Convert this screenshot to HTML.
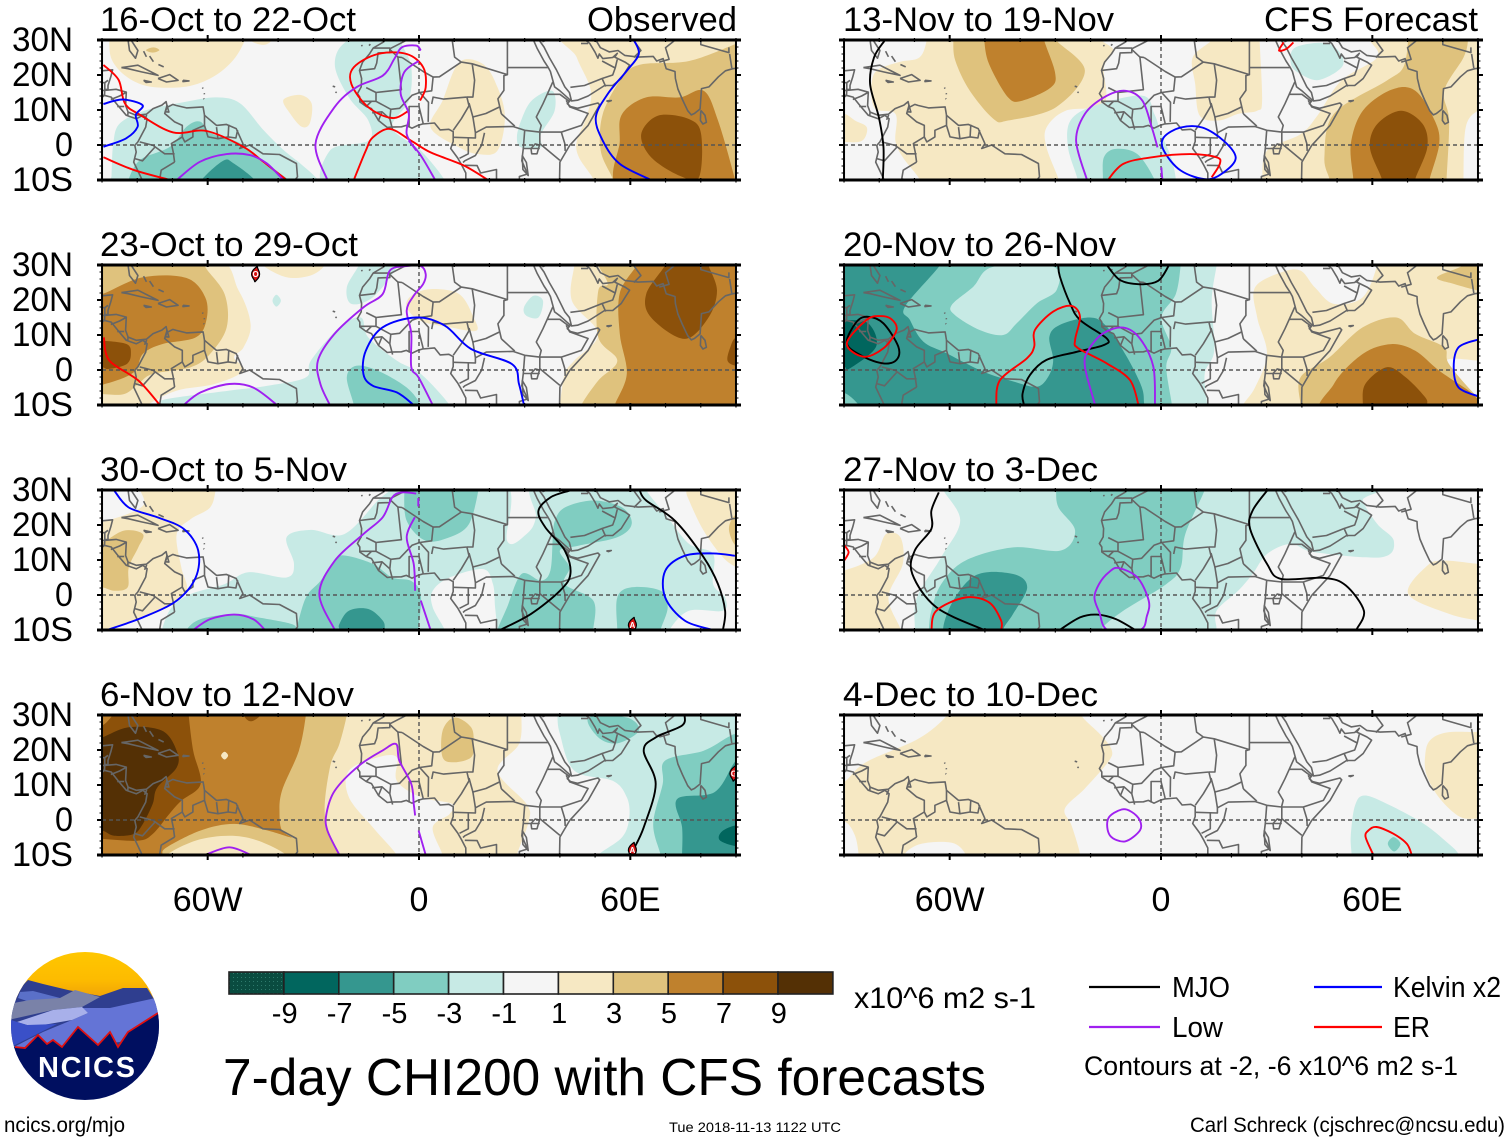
<!DOCTYPE html>
<html lang="en">
<head>
<meta charset="utf-8">
<title>7-day CHI200 with CFS forecasts</title>
<style>
html,body{margin:0;padding:0;background:#fff;}
svg{display:block;}
text{font-family:"Liberation Sans",sans-serif;fill:#000;}
</style>
</head>
<body>
<svg id="chart" width="1510" height="1142" viewBox="0 0 1510 1142">
<defs>
<pattern id="stipple" width="4" height="4" patternUnits="userSpaceOnUse"><rect width="4" height="4" fill="#0a4c40"/><rect x="1" y="1" width="1" height="1" fill="#2d7a6c"/></pattern>
<clipPath id="logo-clip"><circle cx="85" cy="1026" r="74"/></clipPath>
<linearGradient id="logo-sky" x1="0" y1="0" x2="0" y2="1"><stop offset="0" stop-color="#ffc800"/><stop offset="0.6" stop-color="#fdbb00"/><stop offset="1" stop-color="#ee9f08"/></linearGradient>
</defs>
<g id="panels"></g>
<g font-size="34">
<text x="100" y="31" textLength="256" lengthAdjust="spacingAndGlyphs">16-Oct to 22-Oct</text>
<text x="587" y="31" textLength="150" lengthAdjust="spacingAndGlyphs">Observed</text>
<text x="100" y="256" textLength="258" lengthAdjust="spacingAndGlyphs">23-Oct to 29-Oct</text>
<text x="100" y="481" textLength="247" lengthAdjust="spacingAndGlyphs">30-Oct to 5-Nov</text>
<text x="100" y="706" textLength="254" lengthAdjust="spacingAndGlyphs">6-Nov to 12-Nov</text>
<text x="843" y="31" textLength="271" lengthAdjust="spacingAndGlyphs">13-Nov to 19-Nov</text>
<text x="1264" y="31" textLength="214" lengthAdjust="spacingAndGlyphs">CFS Forecast</text>
<text x="843" y="256" textLength="273" lengthAdjust="spacingAndGlyphs">20-Nov to 26-Nov</text>
<text x="843" y="481" textLength="255" lengthAdjust="spacingAndGlyphs">27-Nov to 3-Dec</text>
<text x="843" y="706" textLength="255" lengthAdjust="spacingAndGlyphs">4-Dec to 10-Dec</text>
</g>
<g id="colorbar"></g>
<text x="854" y="1008" font-size="30" textLength="182" lengthAdjust="spacingAndGlyphs">x10^6 m2 s-1</text>
<text x="223" y="1095" font-size="52" textLength="763" lengthAdjust="spacingAndGlyphs">7-day CHI200 with CFS forecasts</text>
<g>
<line x1="1089" y1="987" x2="1160" y2="987" stroke="#000" stroke-width="2.2"/>
<text x="1172" y="997" font-size="29" textLength="58" lengthAdjust="spacingAndGlyphs">MJO</text>
<line x1="1089" y1="1027" x2="1160" y2="1027" stroke="#a020f0" stroke-width="2.2"/>
<text x="1172" y="1037" font-size="29" textLength="51" lengthAdjust="spacingAndGlyphs">Low</text>
<line x1="1314" y1="987" x2="1382" y2="987" stroke="#0000ff" stroke-width="2.2"/>
<text x="1393" y="997" font-size="29" textLength="108" lengthAdjust="spacingAndGlyphs">Kelvin x2</text>
<line x1="1314" y1="1027" x2="1382" y2="1027" stroke="#ff0000" stroke-width="2.2"/>
<text x="1393" y="1037" font-size="29" textLength="37" lengthAdjust="spacingAndGlyphs">ER</text>
<text x="1084" y="1075" font-size="27" textLength="374" lengthAdjust="spacingAndGlyphs">Contours at -2, -6 x10^6 m2 s-1</text>
</g>
<text x="4" y="1132" font-size="21" textLength="121" lengthAdjust="spacingAndGlyphs">ncics.org/mjo</text>
<text x="669" y="1132" font-size="14" textLength="172" lengthAdjust="spacingAndGlyphs">Tue 2018-11-13 1122 UTC</text>
<text x="1190" y="1132" font-size="21" textLength="315" lengthAdjust="spacingAndGlyphs">Carl Schreck (cjschrec@ncsu.edu)</text>
<g clip-path="url(#logo-clip)">
<rect x="10" y="950" width="150" height="50" fill="url(#logo-sky)"/>
<polygon points="8,1000 28,980 43,984 68,990 100,996 123,988 147,988 162,1012 162,1060 8,1060" fill="#2f3e8f"/>
<polygon points="18,998 20,992 33,991 60,998 30,1002" fill="#5a70c8"/>
<polygon points="8,1004 30,1000 60,998 75,990 100,997 82,1007 53,1010 8,1020" fill="#7a82a8"/>
<polygon points="82,1008 110,1008 160,997 162,1013 120,1042 57,1048 12,1048 43,1032 72,1020 88,1013" fill="#6474d6"/>
<polygon points="17,1022 53,1010 82,1007 88,1013 72,1020 43,1025 27,1025" fill="#a8b0ea"/>
<polygon points="8,1019 27,1025 57,1024 15,1045 8,1048" fill="#3a50c8"/>
<polygon points="8,1047 15,1047 25,1048 38,1035 47,1044 53,1040 62,1047 78,1027 98,1045 110,1032 118,1047 128,1032 158,1013 164,1010 164,1105 8,1105" fill="#000f60"/>
<polyline points="15,1047 25,1048 38,1035 47,1044 53,1040 62,1047 78,1027 98,1045 110,1032 118,1047 128,1032 158,1013" fill="none" stroke="#e01010" stroke-width="1.8"/>
<text x="38" y="1077" font-size="29" font-weight="700" style="fill:#fff" textLength="97" lengthAdjust="spacing">NCICS</text>
</g>
</svg>
<script>
// ---- tick labels and scale values ----
const lonTicks = [-60, 0, 60];
const lonTickLabels = ['60W', '0', '60E'];
const latTicks = [30, 20, 10, 0, -10];
const latTickLabels = ['30N', '20N', '10N', '0', '10S'];
const colorbarTicks = ['-9', '-7', '-5', '-3', '-1', '1', '3', '5', '7', '9'];
const colorbarBins = [-10, -8, -6, -4, -2, 0, 2, 4, 6, 8, 10];

// ---- filled CHI200 regions: [bin centre (x10^6 m2 s-1), [[lon,lat],...]] ----
const fills16Oct = [
 [2,[[-88,33],[-88,30],[-87.2,24.3],[-83,19.5],[-76.4,16.7],[-66,16.7],[-58.4,19.5],[-52.7,24.3],[-49.4,30],[-49,33]]],
 [2,[[-48,33],[-48,30],[-44.2,28.6],[-41.8,30],[-41.8,33]]],
 [4,[[-77.5,27.1],[-75.4,27.9],[-73.7,27.1],[-75.6,26.4]]],
 [-2,[[-87.5,-13],[-87.3,-9],[-86.8,0.5],[-84.9,6.2],[-77.3,10],[-66,12.4],[-57.4,13.6],[-50.8,11.9],[-44.2,4.3],[-38.5,-1.4],[-33.8,-5.2],[-29.4,-9.2],[-27,-13]]],
 [-2,[[-6,33],[-19.9,30],[-23.9,23.1],[-19.9,13.6],[-14.4,7],[-14.4,1.2],[-25.3,-1.6],[-25.3,-13],[7.3,-13],[7.3,-10],[0.5,-1.6],[-7.6,5],[-2.9,12.7],[-2.2,22.2],[-4.9,28.9]]],
 [-4,[[-82.5,-13],[-82.5,-10],[-79.2,-4.3],[-70.7,-0.5],[-66,5.2],[-62.2,6.7],[-58.9,3.3],[-50.8,0.5],[-44.2,-5.2],[-37.6,-9.5],[-36,-13]]],
 [-6,[[-61.7,-13],[-61.7,-10],[-55.6,-4.5],[-52.7,-5.2],[-46.6,-10],[-46,-13]]],
 [2,[[6.7,12.7],[11.4,23.6],[18.2,23.1],[22.3,16.5],[24.4,7.9],[22.3,-1.6],[16.9,-2.6],[11.4,-0.7],[3.3,5]]],
 [2,[[-38.5,12.9],[-33.8,14.3],[-30.5,11.9],[-31,6.2],[-33.3,5.2],[-36.6,9]]],
 [-2,[[29,7],[32,12.7],[37.8,15.5],[38.5,9.8],[34.6,3.1],[34.6,-0.7],[29,-0.7],[27.8,2.2]]],
 [2,[[42.7,33],[44.8,25],[48.8,15.5],[47.5,7.9],[44.8,1.2],[45.4,-3.5],[49.5,-9.7],[50,-13],[94,-13],[94,33]]],
 [4,[[57.7,19.3],[63,23],[76.7,24],[90.3,29],[94,30],[94,-13],[55,-13],[55,-9.7],[51.6,-1.6],[52.2,8.9]]],
 [6,[[57.7,8.9],[64.5,13.6],[74,13.6],[80.8,15.5],[84.9,7],[89.7,-9.7],[90,-13],[57.7,-13],[57,1.2]]],
 [8,[[63.1,3.1],[67.9,8.4],[76.7,7.4],[80.1,3.1],[79.5,-9.2],[74,-8.8],[65.9,-3.5]]]
];
const fills23Oct = [
 [2,[[-94,33],[-59.3,33],[-51.2,22.7],[-47.8,13.1],[-49.8,6.5],[-52.5,3.6],[-49.8,-0.2],[-58,-4],[-68.8,-5.9],[-77,-10],[-78,-13],[-94,-13]]],
 [4,[[-94,33],[-60.7,33],[-60.7,29.5],[-55.2,21.7],[-54.6,12.2],[-59.3,4.6],[-64.8,0.8],[-75.6,-1.1],[-79.7,-4],[-83.8,-6.9],[-90,-6.9],[-94,-7]]],
 [6,[[-94,21.7],[-90,21.7],[-78.4,26.5],[-66.1,26.3],[-60.7,20.8],[-60.4,14.1],[-63.4,9.3],[-72.9,7.4],[-78.4,4.6],[-81,-0.7],[-89.2,-4],[-94,-4]]],
 [8,[[-94,8.4],[-90,8.4],[-83,7.4],[-81.8,4.6],[-83,1.7],[-88,0.3],[-90,0.8],[-94,0.8]]],
 [-2,[[-41.6,19.8],[-40.5,21.5],[-39.2,19.8],[-40.5,18.1]]],
 [2,[[-44.4,33],[-44.4,30],[-37.6,26.5],[-30.8,27],[-26.7,30],[-26.7,33]]],
 [-2,[[-17.1,33],[-17.1,30],[-20.5,23.6],[-19.2,18.9],[-13.1,20.8],[-6.3,29.3],[-6,33]]],
 [2,[[-2.2,21.2],[3.3,23.1],[11.4,21.7],[15.5,15],[16.2,11.2],[8.7,12.2],[0.5,14],[-3.5,17.9]]],
 [-2,[[29.8,17.9],[32.5,21.2],[35.2,19.8],[33.9,15],[30.5,15.5]]],
 [-2,[[-16.5,15],[-22.6,12.2],[-30.7,2.7],[-32.1,-2.1],[-43,-4.5],[-53.9,-5.9],[-71.6,-8.3],[-73,-10],[-73,-13],[8.7,-13],[8.7,-10],[0.5,-1.1],[-6.3,2.7],[-14.4,9.3]]],
 [-4,[[-20.5,-2.1],[-17.8,1.2],[-11.7,-0.2],[-3.5,-5],[0.5,-10],[1,-13],[-18.5,-13],[-18.5,-10]]],
 [2,[[44.1,33],[44.1,30],[43.4,19.8],[50.9,10.3],[44.1,2.7],[41.4,-1.1],[40,-10],[40,-13],[94,-13],[94,33]]],
 [4,[[50.9,33],[50.9,30],[53.6,24.6],[50.9,22.7],[50.9,9.3],[56.3,2.7],[50.9,-3],[46.1,-10],[46,-13],[94,-13],[94,33]]],
 [6,[[61.8,33],[61.8,30],[57,22],[57,10.3],[59,-1.1],[55.6,-10],[55.6,-13],[94,-13],[94,33]]],
 [8,[[69.9,33],[69.9,30],[64.5,21.7],[65.9,15],[75.4,8.9],[82.2,15],[84.6,22.7],[82.2,30],[82,33]]],
 [8,[[94,9.3],[90,9.3],[88.4,6.5],[87.6,2.7],[90,1.2],[94,1.2]]]
];
const fills30Oct = [
 [2,[[-78.4,33],[-78.4,25.5],[-90,20.8],[-94,20.5],[-94,-9],[-81,-7.3],[-71.6,-3.5],[-66,1.2],[-67.5,7.9],[-68.8,17.4],[-64.8,21.7],[-59.3,25],[-57.7,30],[-57,33]]],
 [4,[[-94,15],[-90,15],[-83.8,18.4],[-78.4,17.4],[-79.7,13.6],[-82.4,7.9],[-82.7,2.2],[-86.5,1.2],[-90,2.2],[-94,2.2]]],
 [-2,[[-72.9,-13],[-72.9,-9.7],[-70.2,-3.5],[-64.8,0.3],[-55.2,3.1],[-48.4,6.5],[-37.6,5],[-35.5,8.9],[-37.6,16.5],[-30.7,18.6],[-21.2,17.4],[-11.7,27],[-8.3,30],[-8,33],[23.7,33],[25,15.5],[30.5,17.4],[33.2,22.2],[33.5,33],[64.5,33],[64.5,30],[69.9,23.1],[76.7,14.6],[83.5,11.7],[83.5,3.1],[86.9,-0.7],[86.3,-4.5],[76.7,-4.5],[71.3,-9.7],[71,-13]]],
 [0,[[3.9,1.2],[8.7,5],[18.2,7.4],[21,3.1],[21.6,-3.5],[22.3,-10],[22.3,-13],[7.3,-13],[7.3,-10],[3.9,-3.5]]],
 [-4,[[-34.8,-13],[-34.8,-10],[-32.1,-0.7],[-28,4],[-23.9,9.9],[-21.2,11.3],[-13.1,8.9],[-7.6,5],[-2.2,4],[0.5,0],[-0.1,-10],[0,-13]]],
 [-4,[[-66,-13],[-66,-10],[-62,-6.9],[-52.5,-5.4],[-45.7,-6.4],[-36.2,-8.3],[-34.8,-10],[-34,-13]]],
 [-4,[[-4.2,33],[-4.2,30],[-3.5,21.2],[1.9,15.5],[8.7,16.5],[14.2,20.3],[16.9,30],[17,33]]],
 [-4,[[38.6,21.2],[41.4,25],[49.5,27],[57.7,25],[60.4,20.3],[56.3,16.5],[45.4,14.1],[40,12.7],[42.7,7.9],[41.4,3.1],[49.5,-1.6],[49.5,-10],[49.5,-13],[22.3,-13],[22.3,-10],[25,-3.5],[29.1,6],[34.6,4.1],[37.3,7],[38,16.5]]],
 [-4,[[56.3,-0.7],[60.4,2.2],[68.6,1.2],[70.6,-3.5],[68.6,-10],[68.6,-13],[56.3,-13],[56.3,-10]]],
 [-6,[[-22.6,-8.3],[-19.9,-4.5],[-14.4,-4],[-10.3,-7.3],[-9.7,-10],[-9.7,-13],[-22.6,-13],[-22.6,-10]]],
 [2,[[76.7,27],[80.8,18.4],[86.3,10.8],[90.3,7.9],[94,7],[94,33],[78,33],[76,30]]],
 [4,[[94,23],[90,23],[88,19],[90,14],[94,14]]]
];
const fills6Nov = [
 [2,[[-94,33],[29.1,33],[29.1,30],[28.4,21.7],[22.3,14.1],[30.5,4.6],[31.2,-0.2],[27.8,-10],[27.8,-13],[-94,-13]]],
 [0,[[-19.9,14.1],[-11.7,17.9],[-6.3,17.9],[-6.3,11.2],[0.5,6.5],[9.4,4.6],[8.7,1.7],[3.9,-2.1],[6.7,-10],[6.7,-13],[-6.3,-13],[-6.3,-10],[-13.1,-2.1],[-19.9,6.5]]],
 [4,[[-94,33],[-20.5,33],[-20.5,30],[-22.6,21.7],[-25.3,15],[-26.7,0.8],[-22.6,-10],[-22,-13],[-94,-13]]],
 [6,[[-94,33],[-32.1,33],[-32.1,30],[-34.1,19.8],[-38.9,8.4],[-39.6,1.7],[-38.9,-3],[-36.2,-5],[-43,-3],[-52.5,-1.1],[-62,-3],[-71.6,-7.8],[-72.9,-10],[-73,-13],[-94,-13]]],
 [2,[[-71.6,-13],[-71.6,-10],[-63.4,-5.9],[-53.9,-4.5],[-45.7,-5.9],[-37.6,-10],[-37,-13]]],
 [8,[[-94,33],[-65.4,33],[-65.4,30],[-64.1,19.8],[-62,10.3],[-67.5,5.5],[-70.9,1.7],[-75.6,-4],[-79.7,-5.9],[-90,-5.4],[-94,-5]]],
 [6,[[-94,33],[-86,33],[-87,30],[-90,27],[-94,27]]],
 [10,[[-90,23.6],[-82.4,26.5],[-72.9,25.5],[-68.8,19.8],[-68.8,15],[-74.3,9.3],[-75.6,4.6],[-78.4,-1.1],[-81,-4],[-86.5,-4.5],[-90,-3],[-94,-3],[-94,23]]],
 [8,[[-49.8,33],[-49.8,30],[-47.8,28.2],[-45,30],[-45,33]]],
 [2,[[-56.2,18.4],[-55.2,19.5],[-54.2,18.4],[-55.2,17.3]]],
 [4,[[6.7,25.5],[10.1,29.3],[14.8,26.5],[15.5,21.7],[14.8,17.9],[10.1,16.5],[6.7,17.9]]],
 [-2,[[39.3,33],[39.3,30],[40,24.6],[44.1,14.1],[55,11.2],[59,6.5],[59.7,0.8],[57.7,-4.9],[50.9,-10],[50.9,-13],[94,-13],[94,33]]],
 [-4,[[48.2,29.3],[50.9,23.6],[56.3,21.9],[62.4,25.5],[59,29.3]]],
 [-4,[[68.6,-13],[68.6,-10],[66.5,-1.1],[69.2,10.3],[69.9,17],[80.8,19.8],[87.6,23.6],[90,24.6],[94,24.6],[94,-13]]],
 [-6,[[74.7,-13],[74.7,-10],[74.7,-2.1],[73.3,6],[84,8],[90,17],[94,18],[94,-13]]],
 [-8,[[94,-1.5],[90,-1.5],[86,-3.3],[85.4,-5.8],[90,-7.5],[94,-7.5]]]
];
const fills13Nov = [
 [2,[[-66.5,33],[-66.5,30],[-68.6,25],[-74.7,23.6],[-81.5,20.3],[-81.5,10.8],[-75.4,8.9],[-75.4,1.2],[-73.3,-3.5],[-68.6,-9.7],[-68,-13],[-28.5,-13],[-29.1,-9.7],[-32.5,-0.7],[-32.5,5],[-27.1,9.8],[-16.2,11.7],[-16.2,22.2],[-13.5,27],[-16.9,30],[-17,33]]],
 [2,[[-94,8],[-90,8.9],[-86.9,7],[-83.5,5],[-84.9,1.2],[-90,0.8],[-94,0.8]]],
 [2,[[9,25],[14.4,30],[14.4,33],[28,33],[28,30],[28.7,12.7],[27.3,9.8],[21.9,8.9],[16.5,7],[11,8.4],[9.7,17.4]]],
 [2,[[59.3,33],[59.3,30],[61.4,25],[51.2,18.4],[44.4,8.4],[39.6,3.1],[30.1,-1.6],[28.7,-9.7],[28,-13],[86,-13],[85.9,-9.7],[86.5,5],[90,9.8],[94,9.8],[94,33]]],
 [4,[[70.2,33],[70.2,30],[68.8,22.2],[64.1,18.4],[49.1,8.9],[46.4,-3.5],[47.8,-9.7],[48,-13],[81,-13],[81.1,-9.7],[81.8,7],[80.4,15.5],[85.9,25],[87.2,30],[87.2,33]]],
 [6,[[54.6,-13],[54.6,-9.7],[53.9,0.3],[57.3,9.8],[65.4,15.8],[72.2,15.5],[77.7,7],[79,0.3],[76.3,-9.7],[76,-13]]],
 [8,[[59.3,-0.7],[61.4,6],[68.2,9.8],[74.3,6],[75.6,-0.7],[72.2,-9.7],[72,-13],[62.7,-13],[62.7,-9.7]]],
 [4,[[-59,33],[-59,30],[-58.4,24.1],[-54.3,15.5],[-47.5,7.4],[-43.4,7],[-29.8,10.8],[-21.6,21.2],[-29.8,30],[-30,33]]],
 [6,[[-50.2,33],[-50.2,30],[-48.8,23.1],[-43.4,13.6],[-39.3,12.7],[-31.2,16.5],[-30.1,20.8],[-33.2,30],[-33,33]]],
 [-2,[[36.9,23.1],[38.2,27.9],[47.8,28.9],[51.8,23.1],[45,18.6],[39.6,20.3]]],
 [-2,[[-23.7,-13],[-23.7,-9.7],[-26.4,-0.7],[-25.7,7],[-18.9,11.2],[-5.3,14.1],[-1.9,8.9],[0.1,3.1],[2.9,-3.5],[4.2,-9.7],[4,-13]]],
 [-4,[[-16.5,-13],[-16.5,-9.7],[-16.2,-3.5],[-12.8,-1.1],[-6.7,-2.6],[-1.9,-9.7],[-1.5,-13]]]
];
const fills20Nov = [
 [-2,[[-94,33],[15.8,33],[15.8,30],[14.4,19.8],[15.1,5.5],[12.4,-1.1],[13.1,-10],[13,-13],[-94,-13]]],
 [-4,[[-94,33],[5.6,33],[5.6,30],[4.2,21.7],[0.1,15],[2.9,6.5],[1.5,0.8],[3.1,-10],[3,-13],[-94,-13]]],
 [-2,[[-59.4,18.6],[-53.3,23.8],[-47.6,29.5],[-30.6,29.5],[-29.6,22.9],[-35.3,19],[-41,13.3],[-44.8,10],[-51.4,11.4],[-58.5,15.7]]],
 [-6,[[-62.7,33],[-62.7,30],[-72.7,18.1],[-71.3,14.3],[-67.5,8.1],[-60.9,4.8],[-50.4,-0.5],[-41.9,-3.3],[-35.3,-4.8],[-32,-1.9],[-30.6,2.9],[-31.7,9.5],[-28.7,12.9],[-20.2,15],[-15.4,12.4],[-9.7,3.8],[-5.5,-4.8],[-4.8,-9.5],[-4.5,-13],[-94,-13],[-94,33]]],
 [-4,[[-94,-6],[-90,-6.5],[-86.7,-9],[-84,-13],[-94,-13]]],
 [-8,[[-94,14.5],[-89.7,14.3],[-83.1,13.3],[-80.9,6.7],[-88.3,0.5],[-90,1],[-94,2]]],
 [2,[[26.7,23.6],[34.1,27.9],[39.6,28.4],[43.7,23.6],[49.1,18.9],[57.3,20.8],[61.4,30],[61,33],[94,33],[94,-13],[23.3,-13],[23.3,-10],[26.7,-5],[30.1,4.6],[27.3,15]]],
 [0,[[90,2.7],[81.8,3.1],[79.7,-0.2],[87.2,-6.9],[90,-7.8],[94,-8],[94,2.7]]],
 [4,[[39.6,-13],[39.6,-10],[39.6,-2.1],[47.8,3.6],[57.3,12.2],[66.8,15],[72.2,10.3],[80.4,6.5],[81.8,1.7],[90,-7.8],[94,-9],[94,-13]]],
 [4,[[78.4,26.5],[85.9,30],[86,33],[94,33],[94,22],[90,22.7],[83.1,24.6]]],
 [6,[[47.8,-13],[49.1,-4],[57.3,4.6],[65.4,7.4],[72.2,5.5],[79,-0.2],[88.6,-6.9],[90,-10],[90,-13]]],
 [8,[[57.5,-13],[57.3,-10],[58,-4],[64.1,0.8],[69.5,-2.1],[75,-7.8],[75.6,-10],[76,-13]]]
];
const fills27Nov = [
 [-2,[[-61.8,33],[-61.8,30],[-57,21.2],[-62.4,10.8],[-69.3,-0.7],[-69.9,-9.7],[-70,-13],[15.8,-13],[15.8,-9.7],[15.8,-4.5],[21.9,1.2],[26,6],[30.1,11.7],[36.9,14.6],[43.7,12.2],[62.7,10.8],[66.1,15.5],[61.4,20.3],[57.3,27],[57.3,33]]],
 [-4,[[-29.8,33],[-29.8,30],[-29.1,25],[-24.4,18.4],[-28.4,12.7],[-42,13.6],[-55.6,9.8],[-62.4,3.1],[-65.2,-4.5],[-65.9,-9.7],[-66,-13],[-17,-13],[-16.9,-9.7],[-10.7,-4.5],[1.5,3.1],[5.6,7.9],[6.9,17.4],[12.4,30],[12.4,33]]],
 [-6,[[-60.4,-4.5],[-52.9,5.5],[-42,6],[-38,2.2],[-42,-5.4],[-44.8,-9.7],[-45,-13],[-60.4,-13]]],
 [2,[[-94,7],[-90,7],[-81.5,10.8],[-78.1,17.4],[-74,16.5],[-73.3,8.9],[-77.4,-0.7],[-74,-9.7],[-74,-13],[-94,-13]]],
 [2,[[70.2,0.3],[75.6,8.4],[80.4,9.8],[90,8.9],[94,8.9],[94,-8],[90,-7.3],[81.8,-5.4]]]
];
const fills4Dec = [
 [2,[[-94,8],[-89.4,11.3],[-83.6,16.6],[-68.9,23.2],[-60.9,29.7],[-60,33],[-22.5,33],[-22.5,29.7],[-17,24.2],[-14,20],[-15,16.6],[-21.6,9],[-27.3,3.2],[-25.4,-1.5],[-23,-9.6],[-23,-13],[-85.9,-13],[-85.9,-9.6],[-86.9,-4.4],[-89.5,-0.6],[-94,0]]],
 [0,[[-72.7,-13],[-72.7,-9.6],[-68,-6.8],[-59.4,-6.5],[-55.6,-9.6],[-55.6,-13]]],
 [2,[[75,18.5],[76.4,22.8],[81.1,25],[89.2,25.1],[94,25],[94,0.4],[90,0.4],[84.9,0.9],[79.2,6.1],[75.4,12.8]]],
 [-2,[[54.1,-13],[54.1,-9.6],[53.9,-4.4],[55.1,4.2],[57.9,7],[65,4.2],[74.5,-1],[81.1,-6.3],[84.4,-9.6],[85,-13]]],
 [-4,[[64.4,-6.8],[66,-4.9],[68,-6.8],[66.2,-9]]]
];

// ---- filtered-wave contours: [series, [[lon,lat],...], closed?] ----
const contours16Oct = [
 ['er',[[-89.6,22.9],[-85.3,18.6],[-83.5,11.9],[-79.2,8.6],[-69.8,3.6],[-60.3,4],[-49.9,-0.5],[-44.2,-4.8],[-37.6,-10]]],
 ['er',[[-89.6,-3.5],[-81.1,-7.1],[-70.7,-10]]],
 ['er',[[0.3,12.7],[1.9,16.5],[1.2,22.2],[-3.5,26],[-11.7,26],[-18.5,22.2],[-19.2,17.4],[-14.4,10.8],[-7.6,7.7],[-2.9,9.8]]],
 ['er',[[-18.5,-10],[-15.1,-1.6],[-13.1,2.2],[-8.3,4.6],[-2.2,1.2],[3.3,-2.1],[12.8,-5.9],[19.6,-10]]],
 ['kelvin',[[-89.6,11.7],[-84.2,13],[-78.5,11.4],[-80.4,8.6],[-79.9,5.2],[-83.2,1.9],[-89.6,-0.5]]],
 ['kelvin',[[61,30],[62.4,26],[59,21.2],[53.6,14.6],[50.2,7.9],[52.2,1.2],[57,-5.4],[65.9,-10]]],
 ['low',[[0.5,27],[-0.8,28.4],[-4.9,27.9],[-7,24.6],[-10.3,19.8],[-17.8,16.5],[-24,10.8],[-29.4,0.3],[-26,-10]]],
 ['low',[[-0.1,24],[-4.2,20.8],[-5.2,14.6],[-2.9,8.9],[-3.5,3.1],[-0.8,-1.6]]],
 ['low',[[-2.9,1.2],[0.5,-3],[4.6,-10]]],
 ['low',[[-68.8,-10],[-62.2,-4.8],[-54.6,-2.6],[-48,-2.9],[-43.3,-5.2],[-38.5,-10]]]
];
const contours23Oct = [
 ['er',[[-89.5,9.3],[-87.9,2.7],[-79.7,-3],[-73.6,-10]]],
 ['low',[[-25.3,-10],[-28,-4],[-28.7,2.7],[-24,10.3],[-15.8,17.9],[-10.3,21.7],[-8.3,28.4],[-3.5,29.7],[0.5,29.7],[1.9,27.4],[1.2,24.6],[-1.5,21.2],[-3.5,17],[-2.2,10.3],[-2.2,0.8],[-0.1,-2.1],[3.9,-10]]],
 ['low',[[-66.8,-10],[-62,-6.4],[-53.9,-4],[-47.1,-5],[-40.3,-10]]],
 ['kelvin',[[-1.5,-10],[-6.3,-6.4],[-13.1,-4.5],[-15.8,-1.1],[-15.1,5.5],[-10.3,12.2],[-0.8,15],[7.3,12.7],[14.8,6],[26.4,1.7],[28.4,-4],[29.8,-10]]]
];
const contours30Oct = [
 ['kelvin',[[-86.5,29.8],[-82.4,25],[-74.3,22.2],[-66.8,18.9],[-62.7,12.7],[-63.4,5],[-68.8,-1.6],[-78.4,-6.4],[-88.6,-10]]],
 ['kelvin',[[83.5,-10],[75.4,-7.3],[69.9,-0.7],[69.9,6.9],[75.4,11.2],[83.5,11.9],[89.7,11.2]]],
 ['mjo',[[23,-10],[31.8,-5.4],[40,1.2],[43,6],[41.4,12.7],[35.9,19.3],[33.9,24],[37.3,27.9],[42.7,29.8]]],
 ['mjo',[[62.7,29.8],[64.5,27],[72.7,21.2],[80.8,10.8],[84.9,3.1],[86.9,-4.5],[86.3,-10]]],
 ['low',[[-0.8,29],[-4.9,29.3],[-7.6,27.9],[-10.3,22.2],[-15.8,17.4],[-23.9,9.8],[-28.3,0.3],[-23.9,-10]]],
 ['low',[[-1.2,22.2],[-3.5,16.5],[-1.5,8.9],[-1.1,1.2]]],
 ['low',[[0.5,-1.6],[3.3,-10]]],
 ['low',[[-0.2,27.7],[-0.2,25.3]]],
 ['low',[[-64.1,-10],[-59.3,-6.9],[-52.5,-5.6],[-47.1,-6.9],[-43.7,-10]]]
];
const contours6Nov = [
 ['low',[[-60.7,-10],[-53.9,-7.8],[-47.7,-10]]],
 ['low',[[-22.6,-10],[-26,-3],[-26.3,1.7],[-23.9,8.4],[-17.1,15.5],[-10.3,19.9],[-6.5,21.7],[-5.6,17],[-2.2,10.3],[-1.5,4.6],[-1.1,1.3]]],
 ['low',[[-0.1,-3],[1.9,-10]]],
 ['mjo',[[60.7,-8.8],[63.8,-2.1],[67.2,10.3],[63.8,19.8],[67.2,23.6],[74.7,27],[75.4,30]]]
];
const contours13Nov = [
 ['mjo',[[-78.5,29.8],[-81.5,25],[-82.6,17.4],[-80.1,7.9],[-78.8,-0.7],[-79,-10]]],
 ['low',[[-21,-10],[-24.1,1.2],[-21.6,8.9],[-16.2,13.6],[-10.1,15.5],[-5.3,12.7],[-2.6,5],[-1,-0.7]]],
 ['low',[[0.1,-6.4],[0.4,-10]]],
 ['kelvin',[[13.1,-9.8],[5.6,-7.3],[0.8,-1.6],[0.8,2.2],[5.6,5],[11.7,5],[17.8,1.2],[21.2,-3.5],[18.5,-7.3]],true],
 ['er',[[-15.1,-10],[-10.7,-5.4],[-2.6,-3.5],[8.3,-2.6],[15.8,-3.5],[16.7,-5.4],[14.4,-9.2]]],
 ['er',[[37.6,29.3],[35.5,27.4],[33.5,27],[34.8,29.3]]]
];
const contours20Nov = [
 ['mjo',[[-29.2,30],[-28.7,26.7],[-25.8,19],[-23,14.3],[-15.4,9],[-16.3,7.1],[-23.9,5.2],[-32.5,2.9],[-37.2,-1.4],[-39.3,-6.7],[-38.9,-10]]],
 ['mjo',[[-15.4,30],[-11.6,25.7],[-6,24.5],[-0.8,25.5],[2.2,29.8]]],
 ['mjo',[[-83.1,15.2],[-86.4,13.8],[-89.2,7.6],[-84.5,3.8],[-78.8,1.9],[-75.1,2.9],[-74.6,6.7],[-78.8,13.3]],true],
 ['er',[[-79.8,15.4],[-83.6,14.3],[-89.2,7.6],[-84.5,3.8],[-78.8,6.2],[-75.1,11.4],[-76.5,14.5]],true],
 ['er',[[-46.8,-10],[-45.7,-2.9],[-38.1,3.3],[-36,6.7],[-35.8,11.4],[-30.6,16.7],[-25.4,18.3],[-23,15.2],[-24.4,8.6],[-23.5,6.2],[-15.4,1.9],[-8.8,-2.9],[-6.4,-10]]],
 ['low',[[-18.7,-10],[-21.6,1],[-20.6,5.7],[-16.4,10.5],[-10.7,12.1],[-6,9],[-2.2,1],[-1.7,-10]]],
 ['kelvin',[[90,8.7],[84.5,6.5],[83.1,0.8],[84.5,-5],[90,-7.5]]]
];
const contours27Nov = [
 ['mjo',[[-63.1,29.3],[-65.2,24.1],[-65.2,18.9],[-69.9,12.7],[-70.6,6],[-63.8,-3.5],[-50.2,-10]]],
 ['mjo',[[-28.8,-10],[-23,-6.4],[-18.2,-5.6],[-12.8,-6.9],[-7.3,-10]]],
 ['mjo',[[30.1,29.8],[26,24.1],[25.3,18.9],[30.1,8.9],[34.1,4.6],[46.4,4.9],[52.5,2.7],[57.6,-4.5],[55.6,-9.7]]],
 ['er',[[-65.2,-10],[-63.8,-4.5],[-55.6,-0.7],[-48.8,-2.1],[-45.4,-7.3],[-45.4,-10]]],
 ['er',[[-90,14.3],[-88.7,12.2],[-90,9.8]]],
 ['low',[[-12.1,7.7],[-14.8,6.5],[-17.6,3.1],[-18.9,-0.7],[-17.5,-5],[-15.1,-10],[-6,-10],[-4,-6],[-3.5,-1.6],[-6.7,5]],true]
];
const contours4Dec = [
 ['er',[[60.3,-10],[58.1,-4.9],[58.9,-3],[61.2,-2],[65.9,-3.9],[69.8,-6.8],[71.2,-10]]],
 ['low',[[-11.2,3],[-8.3,2.3],[-6,-0.1],[-6,-3],[-10.2,-6.1],[-14.5,-4.4],[-15,0.4]],true]
];

// ---- tropical cyclone marks: [lon, lat, letter] ----
const cyclones16Oct = [];
const cyclones23Oct = [[-46.4,27.4,'O']];
const cyclones30Oct = [[60.6,-8.6,'A']];
const cyclones6Nov = [[60.6,-8.6,'A'],[89.4,13.3,'G']];

// ---- geography, [lon,lat] ----
const coastlines = [
 [[-78.6,-10],[-81,-4.9],[-80.3,-2],[-80.7,-0.1],[-79.8,0.9],[-77.6,5.1],[-77.2,7.5],[-78.4,8.5],[-80.3,7.5],[-83.1,8.5],[-85.5,11.3],[-87.4,13.7],[-89.4,14.2],[-91.5,14]],
 [[-91,15.6],[-89.4,15.6],[-86,15.9],[-83.1,15.1],[-83.3,11.3],[-82.6,9.4],[-80.3,8.5],[-77.4,8.8],[-75.5,10.4],[-73,11.4],[-71.8,12.4],[-71.5,11],[-72,9.5],[-71,9.4],[-71.4,10.8],[-69.9,11.6],[-68.9,11.3],[-66,10.6],[-61.3,10.9],[-60.9,8.5],[-57.5,5.6],[-54.7,5.9],[-51.9,4.7],[-50,0.4],[-50.9,-1],[-48.1,0],[-44.3,-2.5],[-39.6,-2.7],[-34.8,-5.3],[-34.5,-9.1],[-36,-11]],
 [[-90,21.2],[-87,21.5],[-87.5,19.5],[-88.3,17],[-88.3,15.8]],
 [[-82.6,29.9],[-82.2,27],[-80.5,24.8],[-79.8,27],[-81.7,29.9]],
 [[-84.5,22.1],[-79.8,22.8],[-74.1,19.9],[-78.8,20.9],[-82.6,21.8],[-84.5,22.1]],
 [[-78.2,18.5],[-76,18],[-77.5,17.9],[-78.2,18.5]],
 [[-74.1,19],[-70.8,20.1],[-68.4,18.5],[-71.7,18],[-74.1,19]],
 [[-67,18.5],[-65.3,18.3],[-67,18.1],[-67,18.5]],
 [[-78.2,26.8],[-77.4,25.2]],[[-76.5,25.4],[-75.4,23.8]],[[-74,23],[-72.5,22.3]],
 [[-61.5,16.4],[-61.3,16.1]],[[-61,14.8],[-60.9,14.5]],[[-61.2,13.3],[-61,13.1]],
 [[-24.5,16.8],[-23.8,16.6]],[[-23.7,15.2],[-23.4,14.9]],[[-16.4,28.3],[-16,28.5]],[[-14.2,28.4],[-13.8,28.8]],
 [[-9.7,30.2],[-10,29.5],[-13,27.7],[-14,26.1],[-16,23.7],[-16.9,21.3],[-16.3,19],[-16.4,16.6],[-17.5,14.7],[-16.8,13.7],[-16.8,12.3],[-15,11],[-13.5,10.4],[-11.5,7],[-9,5],[-7.9,5.1],[-5,5.2],[-3.6,5.6],[-2,4.8],[-0.3,5.6],[1,6],[4.4,6.3],[6,4.3],[8.5,4.5],[9.7,3.8],[9.7,1],[9,-1],[11,-3.7],[12,-5.5],[13.3,-8],[13.3,-10.5]],
 [[39.9,-10.5],[40,-4.9],[42.8,-0.1],[48,5.6],[51.3,11.5],[50.8,12],[45,10.5],[43,11],[42.1,11.8],[43,12.8],[40,15.5],[38.5,16.6],[37.3,21],[36.6,22.3],[35.5,24],[33.5,27.7],[32.4,30.2]],
 [[34.3,29.7],[35.5,28],[37,25],[39,21.5],[41.4,16.6],[42.7,15],[43.3,12.6],[45,12.8],[48,14],[52.7,17],[55,17],[57.4,19],[59.8,22.8],[58.5,23.7],[55.6,25.1],[56.3,26.2],[55,25],[52.2,24.7],[51.2,26],[50.8,24.8],[50,26.5],[48.5,29],[47,30.2]],
 [[48.5,30.2],[50.5,29.5],[51.5,27.8],[54,26.6],[56.5,27],[58.4,25.6],[62.2,25.1],[66.5,25.3],[67.5,24],[69.3,24.7],[70.2,21.8],[72.7,21],[72.8,19],[73.5,16],[74.8,13],[76.3,9.8],[77.3,8.6],[78.2,9],[79.8,10.3],[80.2,16.1],[82.3,16.6],[85,19.5],[87,21.2],[89.1,21.8],[91,22]],
 [[80,9.9],[81.2,8.5],[81.6,6.5],[80.6,6],[79.9,7],[80,9.9]],
 [[53.2,12.6],[54.6,12.7],[53.8,12.4],[53.2,12.6]],
 [[31.8,-1],[33,0.3],[34.2,0],[33.5,-2.5],[32,-2.5],[31.8,-1]],
 [[29.3,-3],[29.5,-7],[31,-8.7],[30.5,-5],[29.3,-3]]
];
const borders = [
 [[-13,27.7],[-8.3,27.7],[-8.3,26.4],[-11.6,26.3],[-12,23.4],[-12.6,21.8],[-16.9,21.3]],
 [[-8.3,27.5],[-3,30.2]],
 [[-8.3,27.3],[-6,25.1],[-5,15.8],[-12.2,15],[-15,16.4]],
 [[-6,25.1],[-4.8,25]],
 [[-4.8,25],[1.2,21],[4,19.4],[3.6,15.5],[0.2,15],[-2,14.2],[-5.5,10.5],[-8,10.2],[-8.3,7.5],[-7.5,4.4]],
 [[4,19.4],[5.8,19.5],[12,23.7]],
 [[9.4,30.2],[10.1,25.1],[12,23.7],[15.1,23.2],[25.1,20.1],[25.1,30.2]],
 [[25.1,22.1],[36.6,22.1]],
 [[25.1,20.1],[24.1,19.8],[24.1,15.6],[22.4,13.2],[23.4,8.9]],
 [[15.1,23.2],[15.8,18.5],[15.3,13.7],[13.6,13.7]],
 [[3.6,11.7],[4,13.7],[7,13.1],[13.6,13.7]],
 [[13.6,13.7],[14.2,11.2],[12,7.5],[9.7,4.2]],
 [[2.6,6.6],[2.7,12.2],[0.2,15]],
 [[1.2,6.1],[0,11]],
 [[-0.2,11],[-2.8,11],[-2.8,5]],
 [[-12.2,12.5],[-8,10.2]],
 [[-16.7,12.5],[-12.2,12.5],[-12.2,15]],
 [[-15,11],[-13.5,12.5]],
 [[-13.3,9.2],[-10.5,9.5],[-8.3,7.5]],
 [[-11.5,7],[-10.5,9.5]],
 [[14.2,12],[15.3,8],[19,9],[22.9,10.9]],
 [[15.3,8],[16,3.5],[16,2],[9.8,2.2]],
 [[14,2.2],[14,-2.5],[11.5,-3.8]],
 [[16,3.5],[19.1,5.1],[26.7,5.3],[30,4.2],[34.2,3.7]],
 [[12.5,-5],[13,-4.5],[16,-3],[17.8,0],[18.6,3.5]],
 [[30,4.2],[29.6,-1],[29.2,-4.5],[30.8,-8.3],[28.5,-9],[28.5,-10.5]],
 [[23.4,8.9],[27.2,5.4]],
 [[38,18],[35.2,11.8],[33.3,8],[34.7,5.6],[34.2,3.7]],
 [[36.5,14.5],[40,14.5],[42.8,12.4]],
 [[34.2,3.7],[40.4,3.7],[46.1,5.6],[48,9],[42.8,10.9],[41.8,12.8]],
 [[40.4,3.7],[41.4,0.4],[41.5,-1.7]],
 [[34.3,3.7],[34.3,0.4],[40,-4.4]],
 [[34.3,-1],[29.6,-1]],
 [[40.4,-10.4],[34.8,-10]],
 [[13,-5.8],[16.5,-5.9],[17.5,-8],[22,-7],[22,-10.5]],
 [[35,29.5],[37,30.2]],
 [[46,29],[48,29]],
 [[43,16.5],[47,17],[52,19],[55,20],[55.7,22],[52,24]],
 [[55.7,22],[56.3,24.5]],
 [[52,19],[53,16.7]],
 [[61,25],[63,27],[61,29.8]],
 [[68.2,23.7],[71,24.5],[70,27.8],[73,30.2]],
 [[80,30.2],[80,28.7],[88,26.4],[88,27.9]],
 [[88.2,26],[88.8,22]],
 [[-71.5,11.5],[-72.2,9],[-69.4,6.6],[-67.2,5.6],[-67.2,2.3],[-66.5,0.9],[-64.2,2.3],[-64.2,4.2],[-60.9,5.6]],
 [[-67.2,2.3],[-70.3,0.4],[-69.8,-2],[-69.4,-4.9]],
 [[-79.3,0.9],[-75.5,-0.1],[-72.2,-2.5],[-69.4,-2.5]],
 [[-80.7,-3.9],[-78.5,-4.5],[-75,-0.6]],
 [[-69.4,-4.9],[-73.2,-7.2],[-73.6,-9.6],[-70.5,-11]],
 [[-60.9,8.5],[-60.9,5.6],[-59.9,2.3],[-57.1,1.8],[-57.5,5.1]],
 [[-57.1,1.8],[-54.2,2.3],[-54,5.8]],
 [[-54.2,2.3],[-52,2],[-51.5,4.3]],
 [[-91,17.8],[-89.2,17.8],[-88.3,18.5]],
 [[-89.2,17.8],[-89.2,15.9],[-88.2,15.8]],
 [[-89.2,15.9],[-89.3,14.2],[-90,13.6]],
 [[-87.5,13],[-85,14],[-83.2,15]],
 [[-85.7,11],[-83.7,11]],
 [[-82.7,8.3],[-82.6,9.5]],
 [[-77.3,8.6],[-77.9,7.2]]
];

const fillsByPanel = [fills16Oct, fills23Oct, fills30Oct, fills6Nov, fills13Nov, fills20Nov, fills27Nov, fills4Dec];
const contoursByPanel = [contours16Oct, contours23Oct, contours30Oct, contours6Nov, contours13Nov, contours20Nov, contours27Nov, contours4Dec];
const cyclonesByPanel = [cyclones16Oct, cyclones23Oct, cyclones30Oct, cyclones6Nov, [], [], [], []];
const panelNames = ['16-oct', '23-oct', '30-oct', '6-nov', '13-nov', '20-nov', '27-nov', '4-dec'];

// ---- styling ----
const binColors = ['url(#stipple)', '#01665e', '#35978f', '#80cdc1', '#c7eae5', '#f5f5f5', '#f6e8c3', '#dfc27d', '#bf812d', '#8c510a', '#543005'];
const seriesColors = {mjo: '#000000', low: '#a020f0', kelvin: '#0000ff', er: '#ff0000'};
const NS = 'http://www.w3.org/2000/svg';

function binColor(value) {
  const index = colorbarBins.indexOf(value);
  return binColors[index];
}
function lonScale(center, lon) { return center + lon * 3.522; }
function latScale(top, lat) { return top + (30 - lat) * 3.5; }

function smoothPath(points, closed) {
  const n = points.length;
  const at = function (i) {
    if (closed) return points[(i + n) % n];
    return points[Math.max(0, Math.min(n - 1, i))];
  };
  let d = 'M' + points[0][0].toFixed(1) + ' ' + points[0][1].toFixed(1);
  const segments = closed ? n : n - 1;
  for (let i = 0; i < segments; i++) {
    const p0 = at(i - 1), p1 = at(i), p2 = at(i + 1), p3 = at(i + 2);
    const c1x = p1[0] + (p2[0] - p0[0]) / 6, c1y = p1[1] + (p2[1] - p0[1]) / 6;
    const c2x = p2[0] - (p3[0] - p1[0]) / 6, c2y = p2[1] - (p3[1] - p1[1]) / 6;
    d += 'C' + c1x.toFixed(1) + ' ' + c1y.toFixed(1) + ' ' + c2x.toFixed(1) + ' ' + c2y.toFixed(1) + ' ' + p2[0].toFixed(1) + ' ' + p2[1].toFixed(1);
  }
  return closed ? d + 'Z' : d;
}

function tick(parent, x1, y1, x2, y2, width) {
  const el = document.createElementNS(NS, 'line');
  el.setAttribute('x1', x1);
  el.setAttribute('y1', y1);
  el.setAttribute('x2', x2);
  el.setAttribute('y2', y2);
  el.setAttribute('stroke', '#000');
  el.setAttribute('stroke-width', width);
  
  
  parent.appendChild(el);
}

function label(parent, x, y, text, anchor, size, length, name) {
  const el = document.createElementNS(NS, 'text');
  el.setAttribute('x', x);
  el.setAttribute('y', y);
  el.setAttribute('text-anchor', anchor);
  el.setAttribute('font-size', size);
  if (length) {
    el.setAttribute('textLength', length);
    el.setAttribute('lengthAdjust', 'spacingAndGlyphs');
  }
  
  
  el.textContent = text;
  parent.appendChild(el);
}

function drawPanel(root, index) {
  const col = index < 4 ? 0 : 1;
  const row = index % 4;
  const top = 40 + 225 * row;
  const center = col === 0 ? 419 : 1161;
  const left = lonScale(center, -90), right = lonScale(center, 90);
  const bottom = latScale(top, -10);
  const px = function (p) { return [lonScale(center, p[0]), latScale(top, p[1])]; };

  const panel = document.createElementNS(NS, 'g');
  
  
  root.appendChild(panel);

  const clip = document.createElementNS(NS, 'clipPath');
  clip.setAttribute('id', 'clip-' + index);
  const clipRect = document.createElementNS(NS, 'rect');
  clipRect.setAttribute('x', left);
  clipRect.setAttribute('y', top);
  clipRect.setAttribute('width', right - left);
  clipRect.setAttribute('height', bottom - top);
  clip.appendChild(clipRect);
  panel.appendChild(clip);

  const plot = document.createElementNS(NS, 'g');
  plot.setAttribute('clip-path', 'url(#clip-' + index + ')');
  
  
  panel.appendChild(plot);

  const bg = document.createElementNS(NS, 'rect');
  bg.setAttribute('x', left);
  bg.setAttribute('y', top);
  bg.setAttribute('width', right - left);
  bg.setAttribute('height', bottom - top);
  bg.setAttribute('fill', binColor(0));
  
  
  plot.appendChild(bg);

  fillsByPanel[index].forEach(function (shape) {
    const el = document.createElementNS(NS, 'path');
    el.setAttribute('d', smoothPath(shape[1].map(px), true));
    el.setAttribute('fill', binColor(shape[0]));
    
    
    plot.appendChild(el);
  });

  coastlines.concat(borders).forEach(function (line) {
    const el = document.createElementNS(NS, 'polyline');
    el.setAttribute('points', line.map(px).map(function (p) { return p[0].toFixed(1) + ',' + p[1].toFixed(1); }).join(' '));
    el.setAttribute('fill', 'none');
    el.setAttribute('stroke', '#666');
    el.setAttribute('stroke-width', '1.6');
    el.setAttribute('stroke-linejoin', 'round');
    
    
    plot.appendChild(el);
  });

  const equator = document.createElementNS(NS, 'line');
  equator.setAttribute('x1', left);
  equator.setAttribute('x2', right);
  equator.setAttribute('y1', latScale(top, 0));
  equator.setAttribute('y2', latScale(top, 0));
  equator.setAttribute('stroke', '#555');
  equator.setAttribute('stroke-width', '1.4');
  equator.setAttribute('stroke-dasharray', '4 3');
  
  
  plot.appendChild(equator);

  const meridian = document.createElementNS(NS, 'line');
  meridian.setAttribute('x1', lonScale(center, 0));
  meridian.setAttribute('x2', lonScale(center, 0));
  meridian.setAttribute('y1', top);
  meridian.setAttribute('y2', bottom);
  meridian.setAttribute('stroke', '#555');
  meridian.setAttribute('stroke-width', '1.4');
  meridian.setAttribute('stroke-dasharray', '4 3');
  
  
  plot.appendChild(meridian);

  contoursByPanel[index].forEach(function (entry) {
    const el = document.createElementNS(NS, 'path');
    el.setAttribute('d', smoothPath(entry[1].map(px), !!entry[2]));
    el.setAttribute('fill', 'none');
    el.setAttribute('stroke', seriesColors[entry[0]]);
    el.setAttribute('stroke-width', '1.9');
    
    
    plot.appendChild(el);
  });

  cyclonesByPanel[index].forEach(function (mark) {
    const p = px(mark);
    const group = document.createElementNS(NS, 'g');
    group.setAttribute('transform', 'translate(' + p[0].toFixed(1) + ' ' + p[1].toFixed(1) + ')');
    
    
    const body = document.createElementNS(NS, 'path');
    body.setAttribute('d', 'M2 -8C1 -6 4 -4 4 0C4 3 2 5 -1 8C0 6 -4 4 -4 0C-4 -3 -2 -5 2 -8Z');
    body.setAttribute('fill', '#d81010');
    body.setAttribute('stroke', '#000');
    body.setAttribute('stroke-width', '1.2');
    group.appendChild(body);
    const letter = document.createElementNS(NS, 'text');
    letter.setAttribute('x', 0);
    letter.setAttribute('y', 3);
    letter.setAttribute('text-anchor', 'middle');
    letter.setAttribute('font-size', '8');
    letter.setAttribute('font-weight', '700');
    letter.setAttribute('style', 'fill:#fff');
    
    
    letter.textContent = mark[2];
    group.appendChild(letter);
    plot.appendChild(group);
  });

  // ticks
  for (let lon = -90; lon <= 90; lon += 10) {
    const x = lonScale(center, lon);
    const major = lonTicks.indexOf(lon) >= 0;
    const len = major ? 5 : 2.5;
    tick(panel, x, top - (major ? len : 2), x, top + 2, major ? 2 : 1.2);
    tick(panel, x, bottom - 2, x, bottom + len, major ? 2 : 1.2);
  }
  for (let lat = -10; lat <= 30; lat += 2) {
    const y = latScale(top, lat);
    const major = latTicks.indexOf(lat) >= 0;
    const len = major ? 5 : 2.5;
    tick(panel, left - len, y, left + 1, y, major ? 2 : 1);
    tick(panel, right - 1, y, right + len, y, major ? 2 : 1);
  }

  // frame
  tick(panel, left - 5, top, right + 5, top, 3);
  tick(panel, left - 5, bottom, right + 5, bottom, 3);
  tick(panel, left, top, left, bottom, 2);
  tick(panel, right, top, right, bottom, 2);

  if (col === 0) {
    latTicks.forEach(function (lat, i) {
      const len = latTickLabels[i].length === 3 ? 61 : 18;
      label(panel, 73 - len, latScale(top, lat) + 11, latTickLabels[i], 'start', 34, len, 'y-tick-label');
    });
  }
  if (row === 3) {
    lonTicks.forEach(function (lon, i) {
      label(panel, lonScale(center, lon), 911, lonTickLabels[i], 'middle', 34, 0, 'x-tick-label');
    });
  }
}

function drawColorbar(root) {
  const x0 = 229, w = 54.9;
  colorbarBins.forEach(function (bin, i) {
    const el = document.createElementNS(NS, 'rect');
    el.setAttribute('x', x0 + w * i);
    el.setAttribute('y', 972);
    el.setAttribute('width', w);
    el.setAttribute('height', 22);
    el.setAttribute('fill', binColor(bin));
    el.setAttribute('stroke', '#222');
    el.setAttribute('stroke-width', '1.6');
    
    
    root.appendChild(el);
  });
  colorbarTicks.forEach(function (text, i) {
    label(root, x0 + w * (i + 1) + 0.8, 1023, text, 'middle', 29, 0, 'colorbar-tick-label');
  });
}

const panelRoot = document.getElementById('panels');
fillsByPanel.forEach(function (unused, i) { drawPanel(panelRoot, i); });
drawColorbar(document.getElementById('colorbar'));
</script>
</body>
</html>
